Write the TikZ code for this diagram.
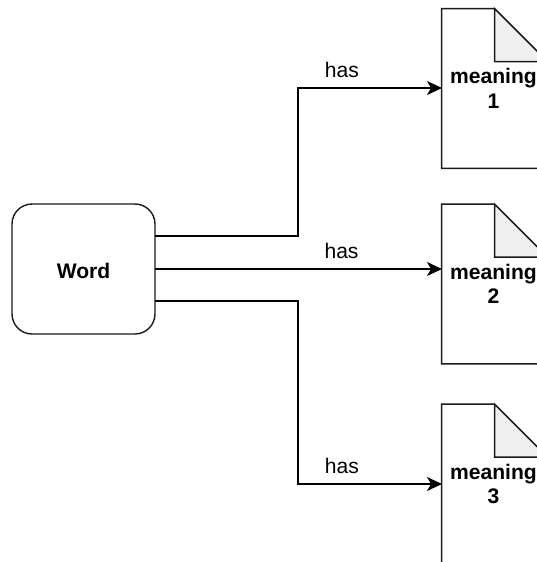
\documentclass[tikz,border=0pt]{standalone}
\usepackage{fontspec}
\setmainfont{Liberation Sans}
\usetikzlibrary{arrows.meta}
\definecolor{foldgray}{HTML}{EFEFEF}
\definecolor{inkgray}{HTML}{1A1A1A}
\tikzset{
  wordbox/.style={draw=inkgray, line width=.8pt, rounded corners=.4cm, minimum width=2.86cm, minimum height=2.6cm, text height=.38cm, font=\fontsize{12}{14}\selectfont\bfseries},
  meaningbox/.style={minimum width=2.12cm, minimum height=3.18cm, inner sep=0pt, align=center, font=\fontsize{12}{14}\selectfont\bfseries},
  haslabel/.style={above, inner sep=2pt, yshift=.12cm, font=\fontsize{12}{14}\selectfont},
  linkline/.style={draw=black, line width=.8pt, -{Stealth[length=.3cm,width=.28cm,inset=.08cm]}},
}
\begin{document}
\begin{tikzpicture}[x=.02cm,y=-.02cm]
\useasboundingbox (0,0) rectangle (537,562);
\clip (0,0) rectangle (537,562);
\node[wordbox] (word) at (83.5,269) {Word};
\node[meaningbox] (m1) at (495,88.5) {\hspace*{-.06cm}meaning\\\hspace*{-.06cm}1};
\node[meaningbox] (m2) at (495,284) {\hspace*{-.06cm}meaning\\\hspace*{-.06cm}2};
\node[meaningbox] (m3) at (495,484) {\hspace*{-.06cm}meaning\\\hspace*{-.06cm}3};
% document outlines with the folded corner
\foreach \m in {m1,m2,m3} {
  \draw[line width=.8pt, draw=inkgray] (\m.north west) -- ++(53,0) -- ++(53,53) -- (\m.south east) -- (\m.south west) -- cycle;
  \draw[line width=.8pt, draw=inkgray, fill=foldgray] (\m.north west) ++(53,0) -- ++(53,53) -- ++(-53,0) -- cycle;
}
\coordinate (w1) at (155,236);
\coordinate (w2) at (155,269);
\coordinate (w3) at (155,301);
\coordinate (turn) at (298,269);
\coordinate (e1) at (442,88);
\coordinate (e2) at (442,269);
\coordinate (e3) at (442,484);
\draw[linkline] (w1) -- (w1 -| turn) -- (turn |- e1) -- node[haslabel,pos=.305] (has1) {has} (e1);
\draw[linkline] (w2) -- node[haslabel,pos=.65] (has2) {has} (e2);
\draw[linkline] (w3) -- (w3 -| turn) -- (turn |- e3) -- node[haslabel,pos=.305] (has3) {has} (e3);
\end{tikzpicture}
\end{document}
